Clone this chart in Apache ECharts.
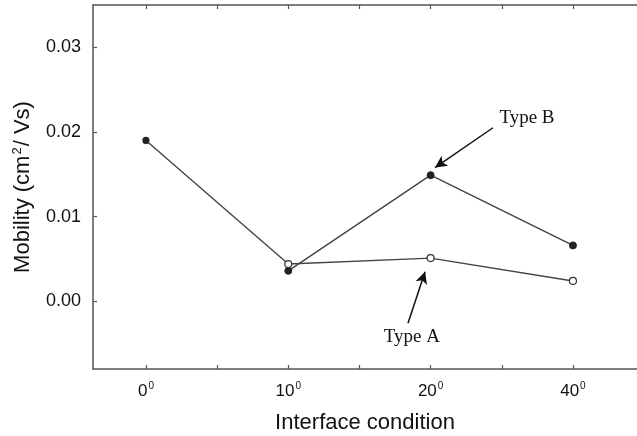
<!DOCTYPE html>
<html>
<head>
<meta charset="utf-8">
<script src="https://cdn.jsdelivr.net/npm/echarts@6/dist/echarts.min.js"></script>
<style>
html, body { margin: 0; padding: 0; background: #fff; }
#main { width: 637px; height: 436px; }
</style>
</head>
<body>
<div id="main"></div>
<script>
// interface condition (degrees) and mobility values
const categories = ['0', '10', '20', '40'];
const typeA = [0.0190, 0.0044, 0.0051, 0.0024];
const typeB = [null, 0.0036, 0.0149, 0.0066];
const yTicks = [0, 0.01, 0.02, 0.03];
const xTicks = [0, 0.5, 1, 1.5, 2, 2.5, 3];

// annotation text + arrows, in data units
const labelB = { text: 'Type B', at: [2.677, 0.0216], from: [2.438, 0.0205], to: [2.031, 0.0158] };
const labelA = { text: 'Type A', at: [1.868, -0.0042], from: [1.841, -0.0026], to: [1.961, 0.0035] };

const AX = '#555';
const LINE = '#444';
const SANS = '"Liberation Sans", Arial, sans-serif';
const SERIF = '"Liberation Serif", "Times New Roman", serif';

function pts(arr) {
	return arr.map(function (v, i) { return [i, v]; });
}

let myChart = echarts.init(document.getElementById('main'), null, { renderer: 'canvas' });
let option = {
	backgroundColor: '#fff',
	animation: false,
	grid: { left: 93, top: 5, right: 0, bottom: 67, outerBoundsMode: 'none' },
	xAxis: [
		{
			type: 'value',
			min: -0.372,
			max: 3.45,
			position: 'bottom',
			splitLine: { show: false },
			axisLine: { onZero: false, lineStyle: { color: AX, width: 1.5 } },
			axisTick: { inside: true, length: 4, customValues: xTicks, lineStyle: { color: AX, width: 1.2 } },
			axisLabel: {
				customValues: [0, 1, 2, 3],
				margin: 12,
				formatter: function (v) {
					return '{a|' + categories[Math.round(v)] + '}{s|0}';
				},
				rich: {
					a: { fontFamily: SANS, fontSize: 17, color: '#111' },
					s: { fontFamily: SANS, fontSize: 10, color: '#111', verticalAlign: 'top', padding: [0, 0, 10, 1] }
				}
			},
			name: 'Interface condition',
			nameLocation: 'middle',
			nameGap: 43,
			nameTextStyle: { fontFamily: SANS, fontSize: 22, color: '#111' }
		},
		{
			type: 'value',
			min: -0.372,
			max: 3.45,
			position: 'top',
			splitLine: { show: false },
			axisLine: { onZero: false, lineStyle: { color: AX, width: 1.5 } },
			axisTick: { inside: true, length: 4, customValues: xTicks, lineStyle: { color: AX, width: 1.2 } },
			axisLabel: { show: false }
		}
	],
	yAxis: {
		type: 'value',
		min: -0.008,
		max: 0.035,
		splitLine: { show: false },
		axisLine: { show: true, onZero: false, lineStyle: { color: AX, width: 1.5 } },
		axisTick: { show: true, inside: true, length: 4, customValues: yTicks, lineStyle: { color: AX, width: 1.2 } },
		axisLabel: {
			customValues: yTicks,
			margin: 12,
			fontFamily: SANS,
			fontSize: 18,
			color: '#111',
			formatter: function (v) { return v.toFixed(2); }
		},
		name: '{n|Mobility (cm}{s|2}{n|/ Vs)}',
		nameLocation: 'middle',
		nameGap: 59,
		nameTextStyle: {
			rich: {
				n: { fontFamily: SANS, fontSize: 22, color: '#111' },
				s: { fontFamily: SANS, fontSize: 13, color: '#111', verticalAlign: 'top', padding: [0, 1, 10, 1] }
			}
		}
	},
	series: [
		{
			name: 'Type A',
			type: 'line',
			data: pts(typeA).map(function (p, i) {
				// the shared 0° point is drawn as a small filled dot
				return i === 0 ? { value: p, symbolSize: 6, itemStyle: { color: '#222', borderColor: '#222' } } : p;
			}),
			symbol: 'circle',
			symbolSize: 7,
			itemStyle: { color: '#fff', borderColor: '#333', borderWidth: 1.2 },
			lineStyle: { color: LINE, width: 1.4 },
			z: 3,
			markLine: {
				silent: true,
				symbol: ['none', 'arrow'],
				symbolSize: [9, 12],
				lineStyle: { color: '#111', width: 1.5, type: 'solid' },
				label: { show: false },
				data: [
					[{ coord: labelA.from }, { coord: labelA.to }],
					[{ coord: labelB.from }, { coord: labelB.to }]
				]
			},
			markPoint: {
				silent: true,
				symbol: 'circle',
				symbolSize: 0,
				label: { show: true, position: 'inside', fontFamily: SERIF, fontSize: 19, color: '#111' },
				data: [
					{ coord: labelA.at, label: { formatter: labelA.text } },
					{ coord: labelB.at, label: { formatter: labelB.text } }
				]
			}
		},
		{
			name: 'Type B',
			type: 'line',
			data: pts(typeB),
			symbol: 'circle',
			symbolSize: 7,
			itemStyle: { color: '#222', borderColor: '#222', borderWidth: 1 },
			lineStyle: { color: LINE, width: 1.4 },
			z: 2
		}
	]
};
myChart.setOption(option);
</script>
</body>
</html>
